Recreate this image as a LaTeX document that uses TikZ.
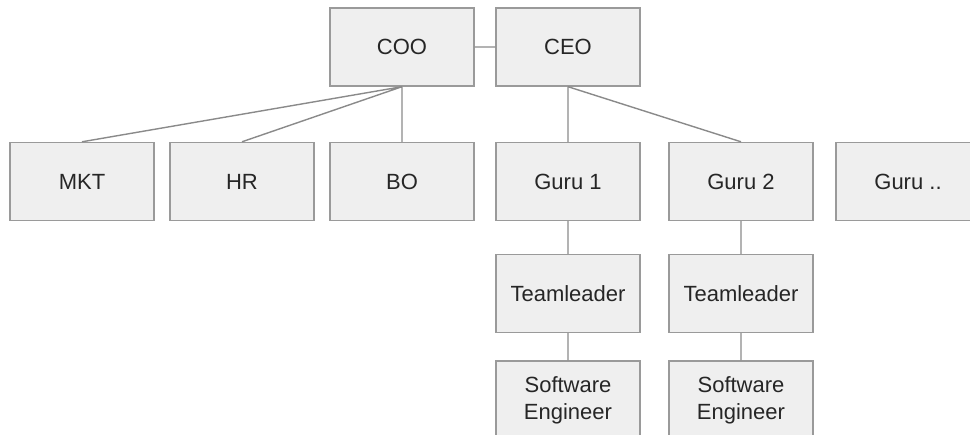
\documentclass[tikz,border=0pt]{standalone}
\usepackage{fontspec}
\setmainfont{Liberation Sans}
\usetikzlibrary{positioning}
\definecolor{boxfill}{HTML}{EFEFEF}
\definecolor{boxline}{HTML}{9A9A9A}
\definecolor{linkgray}{HTML}{8A8A8A}

\begin{document}
\begin{tikzpicture}[x=1pt, y=-1pt, on grid, node distance=134.5pt,
    box/.style={draw=boxline, fill=boxfill, line width=1.4pt, minimum width=144pt,
      minimum height=78pt, inner sep=0pt, align=center, text=black!85,
      font=\fontsize{22}{27}\selectfont},
    link/.style={draw=linkgray, line width=1.4pt}]
    \clip (0,0) rectangle (970,435);

    \node[box] (coo) at (402,47) {COO};
    \node[box] (ceo) [right=166pt of coo] {CEO};

    \node[box] (bo) [below=of coo] {BO};
    \node[box] (hr) [left=160pt of bo] {HR};
    \node[box] (mkt) [left=160pt of hr] {MKT};

    \node[box] (guru1) [below=of ceo] {Guru 1};
    \node[box] (guru2) [right=173pt of guru1] {Guru 2};
    \node[box] (gurux) [right=167pt of guru2] {Guru ..};

    \node[box] (lead1) [below=112pt of guru1] {Teamleader};
    \node[box] (lead2) [below=112pt of guru2] {Teamleader};
    \node[box] (eng1) [below=106.5pt of lead1] {Software\\Engineer};
    \node[box] (eng2) [below=106.5pt of lead2] {Software\\Engineer};

    \path[link]
      (coo) -- (ceo)
      (coo.south) -- (mkt.north)
      (coo.south) -- (hr.north)
      (coo.south) -- (bo.north)
      (ceo.south) -- (guru1.north)
      (ceo.south) -- (guru2.north)
      (guru1) -- (lead1)
      (lead1) -- (eng1)
      (guru2) -- (lead2)
      (lead2) -- (eng2);
\end{tikzpicture}
\end{document}
